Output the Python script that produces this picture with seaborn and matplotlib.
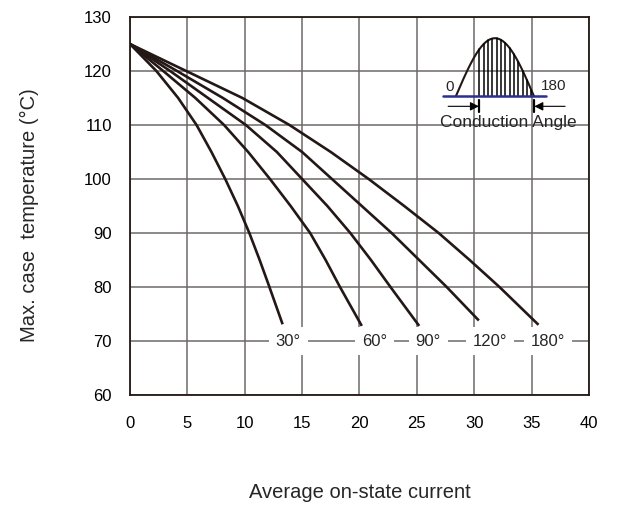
import numpy as np
import pandas as pd
import matplotlib
matplotlib.use("Agg")
import matplotlib.pyplot as plt
import seaborn as sns

# curves (current in A, case temperature in degC)
angles = ["30°", "60°", "90°", "120°", "180°"]

temp_levels = [125, 120, 115, 110, 105, 100, 95, 90, 85, 80]

current_30 = [0, 2.3, 4.2, 5.8, 7.1, 8.3, 9.4, 10.4, 11.3, 12.15, 13.3]
temp_30 = temp_levels + [73.1]

current_60 = [0, 2.9, 5.7, 8.2, 10.3, 12.2, 14.0, 15.7, 17.05, 18.3, 20.2]
temp_60 = temp_levels + [72.8]

current_90 = [0, 3.5, 6.8, 10.1, 12.8, 15.0, 17.2, 19.2, 21.0, 22.7, 25.2]
temp_90 = temp_levels + [72.8]

current_120 = [0, 4.1, 8.1, 11.8, 15.0, 17.6, 20.2, 22.8, 25.2, 27.6, 30.4]
temp_120 = temp_levels + [73.8]

current_180 = [0, 4.9, 9.8, 13.9, 17.5, 20.8, 23.9, 26.9, 29.6, 32.2, 35.6]
temp_180 = temp_levels + [73.0]

x_ticks = [0, 5, 10, 15, 20, 25, 30, 35, 40]
y_ticks = [60, 70, 80, 90, 100, 110, 120, 130]

# where the angle tags sit on the 70 degC line
tag_x = [13.8, 21.3, 26.0, 31.4, 36.4]

all_x = [current_30, current_60, current_90, current_120, current_180]
all_y = [temp_30, temp_60, temp_90, temp_120, temp_180]

frames = []
for a, xs, ys in zip(angles, all_x, all_y):
    frames.append(pd.DataFrame({"current": xs, "temp": ys, "angle": a}))
df = pd.concat(frames, ignore_index=True)

sns.set_style("white")
plt.rcParams["font.family"] = ["Liberation Sans", "DejaVu Sans"]

ink = "#231815"
grid_col = "#6f6969"

fig = plt.figure(figsize=(6.17, 5.05), dpi=100)
ax = fig.add_axes([0.2107, 0.2178, 0.7439, 0.7485])

sns.lineplot(data=df, x="current", y="temp", units="angle", estimator=None,
             sort=False, color=ink, linewidth=1.9, ax=ax, zorder=3,
             solid_joinstyle="round", solid_capstyle="butt")

ax.set_xlim(0, 40)
ax.set_ylim(60, 130)
ax.set_xticks(x_ticks)
ax.set_yticks(y_ticks)
ax.grid(True, color=grid_col, linewidth=1.1)
ax.set_axisbelow(True)
for s in ax.spines.values():
    s.set_color(ink)
    s.set_linewidth(1.3)
ax.tick_params(length=0, labelsize=12, colors="black")
ax.tick_params(axis="x", pad=15)
ax.tick_params(axis="y", pad=13)

ax.set_xlabel("Average on-state current", fontsize=14.5, va="center")
ax.set_ylabel("Max. case  temperature (°C)", fontsize=14.5, va="center")
ax.xaxis.set_label_coords(0.5, -0.257)
ax.yaxis.set_label_coords(-0.218, 0.476)

for t, xt in zip(angles, tag_x):
    ax.text(xt, 70, t, ha="center", va="center", fontsize=12, zorder=4,
            bbox=dict(boxstyle="square,pad=0.4", fc="white", ec="none"))

# little conduction angle sketch, top right
ins = ax.inset_axes([0.671, 0.690, 0.309, 0.257])
ins.set_xlim(-41.5, 286)
ins.set_ylim(-0.66, 1.02)
ins.axis("off")
ins.patch.set_visible(True)
ins.patch.set_facecolor("white")

theta = np.linspace(0, 180, 181)
ins.plot(theta, np.sin(np.radians(theta)), color=ink, lw=1.5)
for th in np.arange(54, 180, 10):
    ins.plot([th, th], [0, np.sin(np.radians(th))], color="black", lw=1.1)
ins.plot([-30.7, 208], [0, 0], color="#2b2f8f", lw=1.8)
ins.text(-15.5, 0.16, "0", ha="center", va="center", fontsize=11)
ins.text(226, 0.18, "180", ha="center", va="center", fontsize=11)

ins.plot([54, 54], [-0.07, -0.28], color="black", lw=1.6)
ins.plot([180, 180], [-0.07, -0.28], color="black", lw=1.6)
ins.annotate("", xy=(53, -0.178), xytext=(-18, -0.178),
             arrowprops=dict(arrowstyle="-|>", color="black", lw=0.8,
                             mutation_scale=13, shrinkA=0, shrinkB=0))
ins.annotate("", xy=(181, -0.178), xytext=(252, -0.178),
             arrowprops=dict(arrowstyle="-|>", color="black", lw=0.8,
                             mutation_scale=13, shrinkA=0, shrinkB=0))
ins.text(122, -0.45, "Conduction Angle", ha="center", va="center", fontsize=12.5)

fig.savefig("out.png", dpi=100)
